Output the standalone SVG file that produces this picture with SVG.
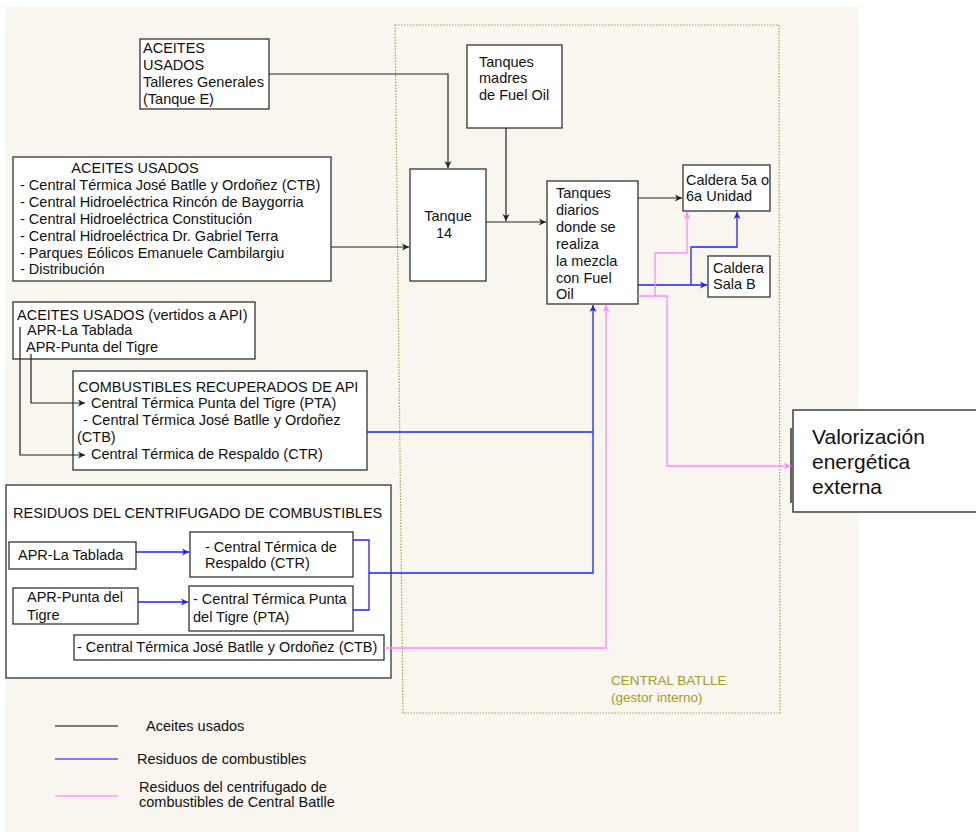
<svg xmlns="http://www.w3.org/2000/svg" width="976" height="832" viewBox="0 0 976 832">
<style>
text{font-family:"Liberation Sans",Arial,sans-serif;font-size:14.5px;fill:#111}
.box{fill:#fff;stroke:#333;stroke-width:1.3}
.k{fill:none;stroke:#222;stroke-width:1.2}
.b{fill:none;stroke:#1f1fff;stroke-width:1.3}
.p{fill:none;stroke:#ff88ff;stroke-width:1.3}
.olive{fill:#a8982a;font-size:13.5px}
</style>
<defs>
<marker id="ak" markerWidth="8" markerHeight="8" refX="7" refY="4" orient="auto" markerUnits="userSpaceOnUse"><path d="M0,0.5 L7,4 L0,7.5 L2,4 z" fill="#222"/></marker>
<marker id="ab" markerWidth="8" markerHeight="8" refX="7" refY="4" orient="auto" markerUnits="userSpaceOnUse"><path d="M0,0.5 L7,4 L0,7.5 L2,4 z" fill="#1f1fff"/></marker>
<marker id="ap" markerWidth="8" markerHeight="8" refX="7" refY="4" orient="auto" markerUnits="userSpaceOnUse"><path d="M0,0.5 L7,4 L0,7.5 L2,4 z" fill="#ff88ff"/></marker>
</defs>
<rect x="5" y="7" width="854" height="825" fill="#f9f6ef"/>
<g id="central-batlle">
<path d="M395,25 L779,25 L780,713 L403,713 Z" fill="none" stroke="#a8a23c" stroke-width="1.2" stroke-dasharray="1.5,1.5"/>
<text class="olive" x="611" y="685">CENTRAL BATLLE</text>
<text class="olive" x="611" y="702">(gestor interno)</text>
</g>
<g id="talleres">
<rect class="box" x="140" y="39" width="129" height="70"/>
<text x="143" y="53">ACEITES</text>
<text x="143" y="70">USADOS</text>
<text x="143" y="87">Talleres Generales</text>
<text x="143" y="104">(Tanque E)</text>
</g>
<g id="aceites-usados">
<rect class="box" x="13" y="157" width="318" height="124"/>
<text x="135" y="173" text-anchor="middle">ACEITES USADOS</text>
<text x="20" y="190">- Central Térmica José Batlle y Ordoñez (CTB)</text>
<text x="20" y="207">- Central Hidroeléctrica Rincón de Baygorria</text>
<text x="20" y="224">- Central Hidroeléctrica Constitución</text>
<text x="20" y="241">- Central Hidroeléctrica Dr. Gabriel Terra</text>
<text x="20" y="258">- Parques Eólicos Emanuele Cambilargiu</text>
<text x="20" y="274">- Distribución</text>
</g>
<g id="vertidos">
<rect class="box" x="13" y="302" width="242" height="57"/>
<text x="17" y="320">ACEITES USADOS (vertidos a API)</text>
<text x="27" y="335">APR-La Tablada</text>
<text x="26" y="352">APR-Punta del Tigre</text>
</g>
<g id="combustibles-recuperados">
<rect class="box" x="73" y="371" width="294" height="99"/>
<text x="78" y="392">COMBUSTIBLES RECUPERADOS DE API</text>
<text x="91" y="408">Central Térmica Punta del Tigre (PTA)</text>
<text x="83" y="425">- Central Térmica José Batlle y Ordoñez</text>
<text x="77" y="442">(CTB)</text>
<text x="91" y="459">Central Térmica de Respaldo (CTR)</text>
</g>
<g id="tanque14">
<rect class="box" x="410" y="169" width="76" height="112"/>
<text x="448" y="221" text-anchor="middle">Tanque</text>
<text x="444" y="238" text-anchor="middle">14</text>
</g>
<g id="tanques-madres">
<rect class="box" x="467" y="45" width="95" height="83"/>
<text x="479" y="67">Tanques</text>
<text x="479" y="83">madres</text>
<text x="479" y="100">de Fuel Oil</text>
</g>
<g id="tanques-diarios">
<rect class="box" x="547" y="181" width="91" height="123"/>
<text x="556" y="198">Tanques</text>
<text x="556" y="215">diarios</text>
<text x="556" y="232">donde se</text>
<text x="556" y="249">realiza</text>
<text x="556" y="266">la mezcla</text>
<text x="556" y="283">con Fuel</text>
<text x="556" y="299">Oil</text>
</g>
<g id="caldera-5a">
<rect class="box" x="683" y="165" width="87" height="46"/>
<text x="686" y="185">Caldera 5a o</text>
<text x="686" y="201">6a Unidad</text>
</g>
<g id="caldera-sala-b">
<rect class="box" x="708" y="256" width="62" height="41"/>
<text x="713" y="273">Caldera</text>
<text x="713" y="289">Sala B</text>
</g>
<g id="valorizacion">
<rect x="793" y="410" width="190" height="102" fill="#fff" stroke="#222" stroke-width="1.3"/>
<line x1="791" y1="428" x2="791" y2="503" stroke="#333" stroke-width="1.5"/>
<text x="812" y="444" style="font-size:21px">Valorización</text>
<text x="812" y="469" style="font-size:21px">energética</text>
<text x="812" y="494" style="font-size:21px">externa</text>
</g>
<g id="residuos-centrifugado">
<rect class="box" x="6" y="485" width="385" height="193"/>
<text x="13" y="518">RESIDUOS DEL CENTRIFUGADO DE COMBUSTIBLES</text>
</g>
<g id="apr-la-tablada">
<rect class="box" x="9" y="542" width="127" height="27"/>
<text x="18" y="560">APR-La Tablada</text>
</g>
<g id="ctr">
<rect class="box" x="190" y="532" width="163" height="45"/>
<text x="205" y="552">- Central Térmica de</text>
<text x="205" y="568">Respaldo (CTR)</text>
</g>
<g id="apr-punta-del-tigre">
<rect class="box" x="13" y="588" width="125" height="36"/>
<text x="27" y="602">APR-Punta del</text>
<text x="27" y="620">Tigre</text>
</g>
<g id="pta">
<rect class="box" x="189" y="586" width="164" height="45"/>
<text x="193" y="604">- Central Térmica Punta</text>
<text x="193" y="622">del Tigre (PTA)</text>
</g>
<g id="ctb">
<rect class="box" x="74" y="635" width="310" height="25"/>
<text x="77" y="652">- Central Térmica José Batlle y Ordoñez (CTB)</text>
</g>
<g id="connectors">
<path class="k" d="M269,74 H448 V168" marker-end="url(#ak)"/>
<path class="k" d="M331,247 H409" marker-end="url(#ak)"/>
<path class="k" d="M486,222 H546" marker-end="url(#ak)"/>
<path class="k" d="M506,128 V221" marker-end="url(#ak)"/>
<path class="k" d="M638,198 H682" marker-end="url(#ak)"/>
<path class="k" d="M31,354 V403 H85" marker-end="url(#ak)"/>
<path class="k" d="M20,327 V455 H85" marker-end="url(#ak)"/>
<path class="b" d="M638,285 H707" marker-end="url(#ab)"/>
<path class="b" d="M691,285 V247 H737 V212" marker-end="url(#ab)"/>
<path class="b" d="M367,432 H593"/>
<path class="b" d="M369,573 H593 V305" marker-end="url(#ab)"/>
<path class="b" d="M353,540 H369 V610 H353"/>
<path class="b" d="M136,552 H189" marker-end="url(#ab)"/>
<path class="b" d="M138,602 H188" marker-end="url(#ab)"/>
<path class="p" d="M638,296 H667 V466 H791" marker-end="url(#ap)"/>
<path class="p" d="M655,296 V253 H687 V212" marker-end="url(#ap)"/>
<path class="p" d="M384,648 H606 V305" marker-end="url(#ap)"/>
</g>
<g id="legend">
<line x1="55" y1="726" x2="118" y2="726" stroke="#000" stroke-width="1.2"/>
<text x="146" y="731">Aceites usados</text>
<line x1="55" y1="759" x2="118" y2="759" stroke="#5555ff" stroke-width="1.3"/>
<text x="137" y="764">Residuos de combustibles</text>
<line x1="55" y1="796" x2="118" y2="796" stroke="#ff99ff" stroke-width="1.3"/>
<text x="139" y="792">Residuos del centrifugado de</text>
<text x="139" y="807">combustibles de Central Batlle</text>
</g>
</svg>
